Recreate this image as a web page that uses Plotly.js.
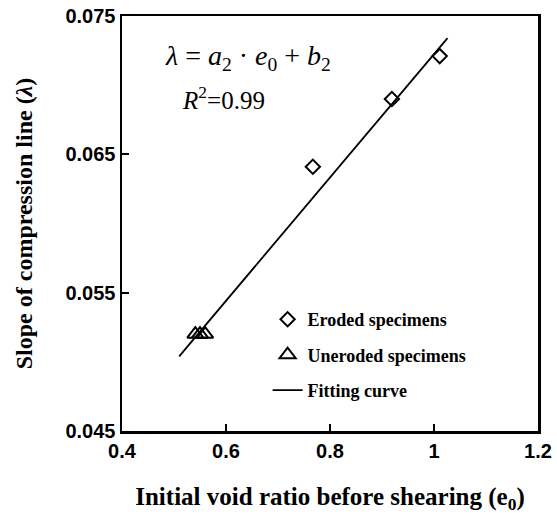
<!DOCTYPE html>
<html>
<head>
<meta charset="utf-8">
<script src="https://cdn.plot.ly/plotly-3.0.1.min.js"></script>
<style>html,body{margin:0;padding:0;background:#fff;}#chart{width:557px;height:518px;}</style>
</head>
<body>
<div id="chart"></div>
<script>
// Data
const erodedE0 = [0.767, 0.919, 1.011];
const erodedLambda = [0.0641, 0.0690, 0.0721];
const unerodedE0 = [0.541, 0.550, 0.560];
const unerodedLambda = [0.0520, 0.0520, 0.0520];
const fitE0 = [0.510, 1.026];
const fitLambda = [0.0504, 0.0734];
const xTicks = [0.4, 0.6, 0.8, 1.0, 1.2];
const xTickText = ['0.4', '0.6', '0.8', '1', '1.2'];
const yTicks = [0.045, 0.055, 0.065, 0.075];
const yTickText = ['0.045', '0.055', '0.065', '0.075'];
const seriesNames = ['Eroded specimens', 'Uneroded specimens', 'Fitting curve'];

const serif = 'Liberation Serif';
const sans = 'Liberation Sans';
const b = s => '<b>' + s + '</b>';

const traces = [
  {
    x: erodedE0, y: erodedLambda, type: 'scatter', mode: 'markers',
    name: b(seriesNames[0]), legendgroup: 'g1',
    marker: {symbol: 'diamond-open', size: 11, color: '#000', line: {width: 2, color: '#000'}}
  },
  {
    x: unerodedE0, y: unerodedLambda, type: 'scatter', mode: 'markers',
    name: b(seriesNames[1]), legendgroup: 'g2',
    marker: {symbol: 'triangle-up-open', size: 14, color: '#000', line: {width: 2, color: '#000'}}
  },
  {
    x: fitE0, y: fitLambda, type: 'scatter', mode: 'lines',
    name: b(seriesNames[2]), legendgroup: 'g3',
    line: {color: '#000', width: 1.8}
  }
];

function axis(extra) {
  return Object.assign({
    showgrid: false, zeroline: false,
    showline: true, linecolor: '#000', linewidth: 2.5, mirror: true,
    ticks: 'inside', ticklen: 7, tickwidth: 2, tickcolor: '#000',
    tickfont: {family: sans, size: 20, color: '#000', weight: 'bold'}
  }, extra);
}

const layout = {
  width: 557, height: 518,
  margin: {l: 122, r: 19, t: 16, b: 87},
  paper_bgcolor: '#fff', plot_bgcolor: '#fff',
  showlegend: true,
  legend: {
    x: 0.35, y: 0.313, xanchor: 'left', yanchor: 'top',
    bgcolor: 'rgba(0,0,0,0)', traceorder: 'grouped', tracegroupgap: 9,
    font: {family: serif, size: 18, color: '#000'}
  },
  xaxis: axis({
    range: [0.4, 1.2], tickvals: xTicks, ticktext: xTickText,
    title: {text: b('Initial void ratio before shearing (e<sub>0</sub>)'), standoff: 27,
      font: {family: serif, size: 25, color: '#000'}}
  }),
  yaxis: axis({
    range: [0.045, 0.075], tickvals: yTicks, ticktext: yTickText,
    title: {text: b('Slope of compression line (<i>λ</i>)'), standoff: 26,
      font: {family: serif, size: 24, color: '#000'}}
  }),
  annotations: [
    {xref: 'paper', yref: 'paper', x: 0.099, y: 0.899, xanchor: 'left', yanchor: 'middle',
     showarrow: false,
     text: '<i>λ</i> = <i>a</i><sub>2</sub> · <i>e</i><sub>0</sub> + <i>b</i><sub>2</sub>',
     font: {family: serif, size: 28, color: '#000'}},
    {xref: 'paper', yref: 'paper', x: 0.139, y: 0.802, xanchor: 'left', yanchor: 'middle',
     showarrow: false,
     text: '<i>R</i><sup>2</sup>=0.99',
     font: {family: serif, size: 25, color: '#000'}}
  ]
};

Plotly.newPlot('chart', traces, layout, {displayModeBar: false, staticPlot: true});
</script>
</body>
</html>
